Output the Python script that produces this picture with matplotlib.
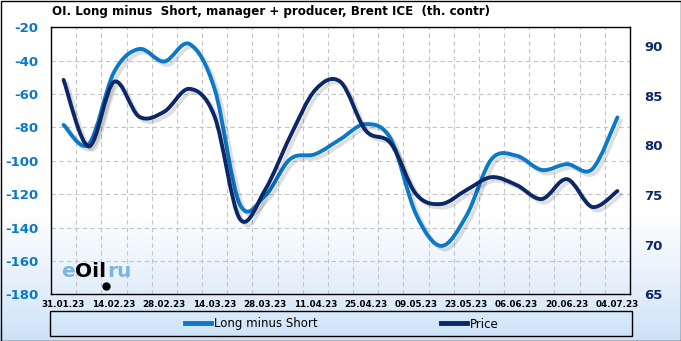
import numpy as np
import matplotlib
matplotlib.use("Agg")
import matplotlib.pyplot as plt
from matplotlib.path import Path
from matplotlib.patches import PathPatch, Rectangle
from matplotlib.lines import Line2D
from matplotlib.transforms import ScaledTranslation

plt.rcParams["axes.unicode_minus"] = False

# weekly data
dates = ["31.01.23", "07.02.23", "14.02.23", "21.02.23", "28.02.23", "07.03.23",
         "14.03.23", "21.03.23", "28.03.23", "04.04.23", "11.04.23", "18.04.23",
         "25.04.23", "02.05.23", "09.05.23", "16.05.23", "23.05.23", "30.05.23",
         "06.06.23", "13.06.23", "20.06.23", "27.06.23", "04.07.23"]
long_minus_short = [-78.5, -90, -47, -33, -40.5, -30, -57, -126, -121, -99, -96, -87,
                    -78, -87, -132, -151, -133, -99, -97, -105.5, -102, -105, -74]
price = [86.6, 79.9, 86.4, 82.9, 83.4, 85.7, 82.9, 72.6, 75.5, 80.9, 85.6, 86.4,
         81.5, 80.2, 75.1, 74.1, 75.5, 76.8, 76.0, 74.6, 76.6, 73.8, 75.4]

title = "OI. Long minus  Short, manager + producer, Brent ICE  (th. contr)"
blue = "#0b78c8"
navy = "#0b2766"


def smooth_path(x, y):
    # Catmull-Rom spline as cubic bezier segments (like Excel smoothed lines)
    n = len(x)
    verts = [(x[0], y[0])]
    codes = [Path.MOVETO]
    for i in range(n - 1):
        xa, ya = (x[i - 1], y[i - 1]) if i > 0 else (x[i], y[i])
        xd, yd = (x[i + 2], y[i + 2]) if i + 2 < n else (x[i + 1], y[i + 1])
        c1 = (x[i] + (x[i + 1] - xa) / 6, y[i] + (y[i + 1] - ya) / 6)
        c2 = (x[i + 1] - (xd - x[i]) / 6, y[i + 1] - (yd - y[i]) / 6)
        verts += [c1, c2, (x[i + 1], y[i + 1])]
        codes += [Path.CURVE4] * 3
    return Path(verts, codes)


W, H = 681, 341
fig = plt.figure(figsize=(W / 100, H / 100), dpi=100)

# gradient background
bg = fig.add_axes([0, 0, 1, 1], zorder=-10)
t = np.linspace(0, 1, 200)[:, None]
f = np.clip(t / 0.38, 0, 1) ** 0.9
top_c = np.array([1.0, 1.0, 1.0])
bot_c = np.array([0.80, 0.885, 0.97])
grad = (bot_c[None, None, :] * (1 - f[..., None]) + top_c[None, None, :] * f[..., None])
bg.imshow(np.repeat(grad, 2, axis=1), aspect="auto", origin="lower", extent=[0, 1, 0, 1])
bg.axis("off")

ax = fig.add_axes([51 / W, (H - 294.3) / H, 579 / W, 267 / H])
ax.patch.set_visible(False)
ax2 = ax.twinx()
ax2.patch.set_visible(False)

x = np.arange(len(dates))
ax.set_xlim(-0.5, len(dates) - 0.5)
ax.set_ylim(-180, -20)
ax2.set_ylim(65, 91.9)

# grid: horizontal at left ticks, vertical between categories
ax.set_yticks(np.arange(-180, -19, 20))
ax.set_xticks(x[::2])
ax.set_xticklabels(dates[::2])
ax.set_xticks(x[:-1] + 0.5, minor=True)
ax.grid(axis="y", color="#c4c4c4", linestyle=(0, (4, 3)), linewidth=0.8)
ax.grid(axis="x", which="minor", color="#c4c4c4", linestyle=(0, (4, 3)), linewidth=0.8)
ax.set_axisbelow(True)
ax2.set_yticks(np.arange(65, 91, 5))

ax.tick_params(axis="x", which="both", length=0, pad=4, labelsize=6.3)
for lb in ax.get_xticklabels():
    lb.set_fontweight("bold")
ax.tick_params(axis="y", length=0, pad=9, labelsize=9.5, labelcolor=blue)
for lb in ax.get_yticklabels():
    lb.set_fontweight("bold")
ax2.tick_params(axis="y", length=0, pad=10, labelsize=9.5, labelcolor=navy)
for lb in ax2.get_yticklabels():
    lb.set_fontweight("bold")

for sp in ax.spines.values():
    sp.set_color("black")
    sp.set_linewidth(1)
for sp in ax2.spines.values():
    sp.set_visible(False)

shadow = ScaledTranslation(2.5 / 72, -2.5 / 72, fig.dpi_scale_trans)
for axis, vals, col in [(ax, long_minus_short, blue), (ax2, price, navy)]:
    p = smooth_path(x, vals)
    axis.add_patch(PathPatch(p, fill=False, edgecolor="#000000", alpha=0.13,
                             linewidth=2.8, transform=axis.transData + shadow,
                             capstyle="round", clip_on=False))
    axis.add_patch(PathPatch(p, fill=False, edgecolor=col, linewidth=2.8,
                             capstyle="round", joinstyle="round", clip_on=False))

# watermark
ax.text(0.018, 0.085, "e", transform=ax.transAxes, fontsize=14.5, color="#80b4de",
        fontweight="bold", va="center")
ax.text(0.042, 0.085, "Oil", transform=ax.transAxes, fontsize=14.5, color="black",
        fontweight="bold", va="center")
ax.text(0.098, 0.085, "ru", transform=ax.transAxes, fontsize=14.5, color="#80b4de",
        fontweight="bold", va="center")
ax.plot([0.095], [0.03], marker="o", markersize=5, color="black",
        transform=ax.transAxes)

fig.text(52 / W, 1 - 12 / H, title, fontsize=8.6, fontweight="bold", va="center",
         ha="left", family="DejaVu Sans")

# legend
fig.add_artist(Rectangle((50 / W, (H - 336) / H), 582 / W, 25 / H, fill=False,
                         edgecolor="black", linewidth=1, transform=fig.transFigure))
handles = [Line2D([], [], color=blue, linewidth=3.5),
           Line2D([], [], color=navy, linewidth=3.5)]
fig.legend(handles, ["Long minus Short", "Price"], loc="center",
           bbox_to_anchor=(342 / W, (H - 324) / H), ncol=2, frameon=False,
           fontsize=8.5, handlelength=2.2, handletextpad=0.2, columnspacing=10.5)

fig.add_artist(Rectangle((0.5 / W, 0.5 / H), 1 - 1 / W, 1 - 1 / H, fill=False,
                         edgecolor="black", linewidth=1, transform=fig.transFigure))

fig.savefig("out.png", dpi=100)
